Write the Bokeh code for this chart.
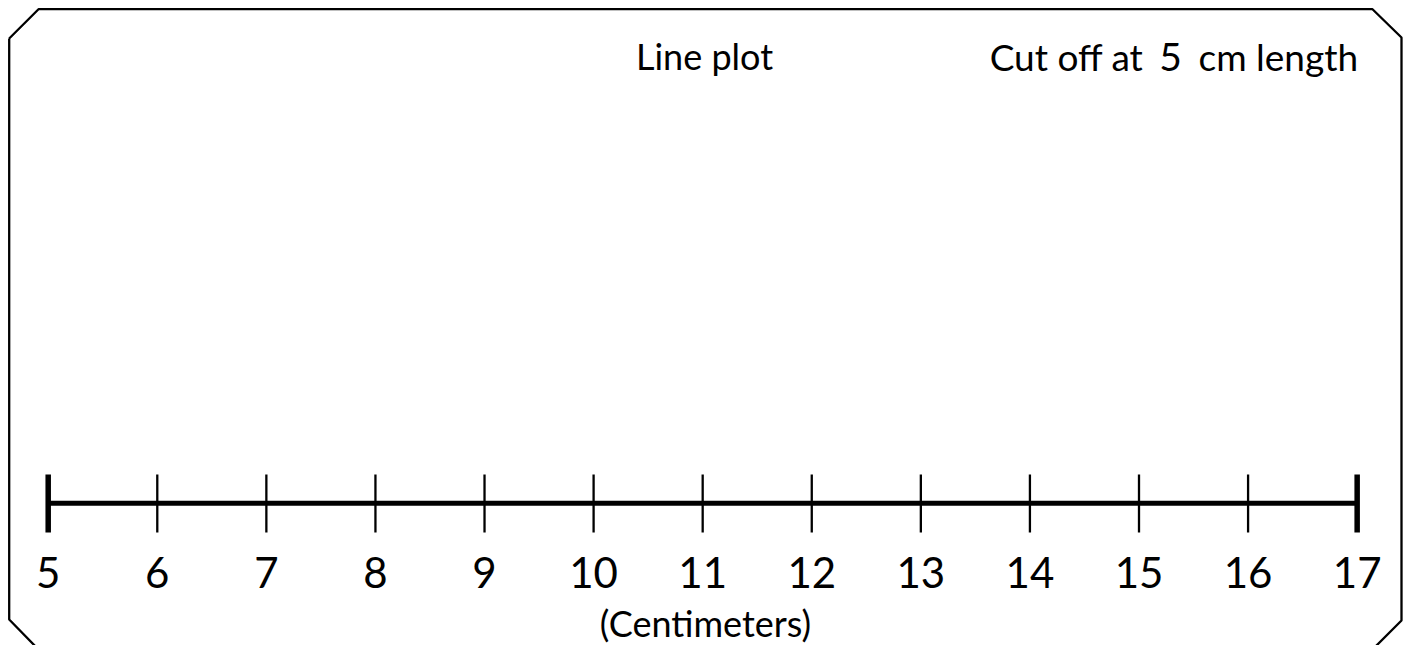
from bokeh.plotting import figure
from bokeh.models import Range1d, ColumnDataSource
from bokeh.embed import file_html
from bokeh.resources import INLINE
from bokeh.core.properties import value

# ---- data ----
title = "Line plot"
unit_label = "(Centimeters)"
note_before = "Cut off at"
note_number = "5"
note_after = "cm length"
tick_values = [5, 6, 7, 8, 9, 10, 11, 12, 13, 14, 15, 16, 17]
tick_labels = ["5", "6", "7", "8", "9", "10", "11", "12", "13", "14", "15", "16", "17"]
line_start = 5
line_end = 17

FONT = "Lato"
W, H = 1407, 645

p = figure(width=W, height=H, output_backend="svg", toolbar_location=None,
           x_range=Range1d(0, W), y_range=Range1d(H, 0), min_border=0,
           x_axis_location=None, y_axis_location=None)
p.extra_x_ranges = {"cm": Range1d(4.5627, 17.4615)}
p.grid.visible = False
p.outline_line_color = None
p.background_fill_color = "white"
p.border_fill_color = "white"

# frame with cut corners (layout decoration, pixel units)
fx = [8.7, 38, 1372, 1401, 1401, 1372, 38, 8.7, 8.7]
fy = [38, 8.7, 8.7, 37, 620, 649, 649, 619, 38]
p.line(fx, fy, line_color="black", line_width=2.3)

# number line
p.line(x=[line_start, line_end], y=[502.7, 502.7], x_range_name="cm",
       line_color="black", line_width=5)
widths = [5.5 if v in (line_start, line_end) else 2.3 for v in tick_values]
tsrc = ColumnDataSource(dict(x=tick_values, lab=tick_labels, w=widths))
p.segment(x0="x", x1="x", y0=474, y1=532, source=tsrc, x_range_name="cm",
          line_color="black", line_width="w")
p.text(x="x", y=572, text="lab", source=tsrc, x_range_name="cm",
       text_font=value(FONT), text_font_size=value("42px"),
       text_align="center", text_baseline="alphabetic", text_color="black")

# texts
p.text(x=[704], y=[55], text=[title], text_font=value(FONT),
       text_font_size=value("36px"), text_align="center",
       text_baseline="alphabetic", text_color="black")
p.text(x=[705], y=[622], text=[unit_label], text_font=value(FONT),
       text_font_size=value("36px"), text_align="center",
       text_baseline="alphabetic", text_color="black")
p.text(x=[1143], y=[56], text=[note_before], text_font=value(FONT),
       text_font_size=value("37px"), text_align="right",
       text_baseline="alphabetic", text_color="black")
p.text(x=[1170], y=[56], text=[note_number], text_font=value(FONT),
       text_font_size=value("39px"), text_align="center",
       text_baseline="alphabetic", text_color="black")
p.text(x=[1198], y=[56], text=[note_after], text_font=value(FONT),
       text_font_size=value("37px"), text_align="left",
       text_baseline="alphabetic", text_color="black")

open("out.html", "w").write(file_html(p, INLINE))
